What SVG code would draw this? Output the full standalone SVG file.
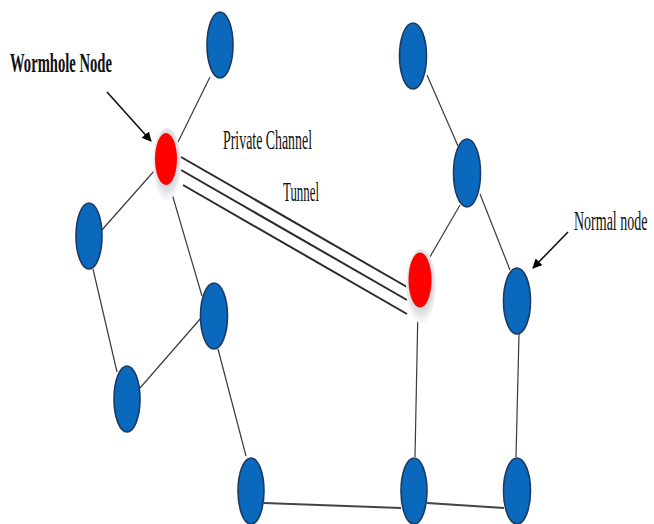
<svg xmlns="http://www.w3.org/2000/svg" width="654" height="524" viewBox="0 0 654 524">
<style>
.node{fill:#0b69bd;stroke:#1b3a60;stroke-width:1.6}
.worm{fill:#ff0000;stroke:none}
.halo{fill:url(#haloGrad)}
.edge{stroke:#3a3a3a;stroke-width:1.2;fill:none}
.thick{stroke:#444;stroke-width:2.2;fill:none}
.tun{stroke:#2a2a2a;stroke-width:2;fill:none}
.arrow{stroke:#111;stroke-width:1.6;fill:none;marker-end:url(#ah)}
.lbl{font-family:"Liberation Serif","Times New Roman",serif;font-size:28px;fill:#111}
</style>
<defs>
<marker id="ah" viewBox="0 0 10 10" refX="9" refY="5" markerWidth="6" markerHeight="6" orient="auto" markerUnits="strokeWidth">
<path d="M0,0 L10,5 L0,10 z" fill="#000"/>
</marker>
<radialGradient id="haloGrad" cx="0.5" cy="0.45" r="0.5">
<stop offset="0.6" stop-color="#cfcfd4"/>
<stop offset="0.85" stop-color="#e2e2e6"/>
<stop offset="1" stop-color="#f4f4f6"/>
</radialGradient>
</defs>
<rect width="654" height="524" fill="#fff"/>
<g id="connectors">
<line class="edge" x1="210" y1="77" x2="178" y2="142"/>
<line class="edge" x1="101" y1="231" x2="155" y2="170"/>
<line class="edge" x1="170" y1="187" x2="202" y2="296"/>
<line class="edge" x1="93" y1="269" x2="117" y2="372"/>
<line class="edge" x1="140" y1="388" x2="201" y2="318"/>
<line class="edge" x1="218" y1="349" x2="246" y2="456"/>
<line class="thick" x1="264" y1="503" x2="401" y2="508"/>
<line class="thick" x1="427" y1="503" x2="504" y2="508"/>
<line class="edge" x1="427" y1="75" x2="458" y2="146"/>
<line class="edge" x1="460" y1="205" x2="427" y2="262"/>
<line class="edge" x1="480" y1="194" x2="510" y2="270"/>
<line class="edge" x1="418" y1="306" x2="415" y2="457"/>
<line class="edge" x1="519" y1="334" x2="516" y2="457"/>
<line class="tun" x1="181" y1="157" x2="407" y2="287"/>
<line class="tun" x1="181" y1="170" x2="407" y2="300"/>
<line class="tun" x1="183" y1="185" x2="407" y2="314"/>
<line class="arrow" x1="107" y1="92" x2="151" y2="141"/>
<line class="arrow" x1="568" y1="232" x2="533" y2="268"/>
</g>
<g id="n-top-left"><ellipse class="node" cx="220" cy="45" rx="13" ry="33"/></g>
<g id="wormhole-1"><ellipse class="halo" cx="167" cy="164" rx="14" ry="36"/><ellipse class="worm" cx="166" cy="159" rx="11" ry="26"/></g>
<g id="n-left"><ellipse class="node" cx="89" cy="236" rx="13" ry="33"/></g>
<g id="n-mid-left"><ellipse class="node" cx="214" cy="316" rx="13.5" ry="33"/></g>
<g id="n-low-left"><ellipse class="node" cx="127" cy="399" rx="13" ry="33"/></g>
<g id="n-bottom-left"><ellipse class="node" cx="251" cy="491" rx="13" ry="33"/></g>
<g id="n-top-right"><ellipse class="node" cx="413" cy="56" rx="13.5" ry="33"/></g>
<g id="n-upper-right"><ellipse class="node" cx="467" cy="173" rx="13.5" ry="34"/></g>
<g id="wormhole-2"><ellipse class="halo" cx="421" cy="286" rx="15" ry="37"/><ellipse class="worm" cx="420" cy="280" rx="11.5" ry="27.5"/></g>
<g id="n-normal"><ellipse class="node" cx="517" cy="301" rx="13.5" ry="33"/></g>
<g id="n-bottom-mid"><ellipse class="node" cx="414" cy="491" rx="13" ry="33"/></g>
<g id="n-bottom-right"><ellipse class="node" cx="517" cy="491" rx="13.5" ry="33"/></g>
<g id="labels">
<text class="lbl" x="10" y="72" font-weight="bold" font-size="29" textLength="102" lengthAdjust="spacingAndGlyphs">Wormhole Node</text>
<text class="lbl" x="223" y="149" textLength="89" lengthAdjust="spacingAndGlyphs">Private Channel</text>
<text class="lbl" x="283" y="201" textLength="36" lengthAdjust="spacingAndGlyphs">Tunnel</text>
<text class="lbl" transform="translate(574,230) scale(0.5,1)" x="0" y="0">Normal node</text>
</g>
</svg>
